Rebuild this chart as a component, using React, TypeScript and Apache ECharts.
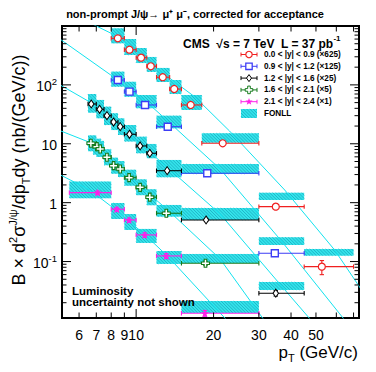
import React, { useEffect, useRef } from "react";
import * as echarts from "echarts";

const FONT = "'Liberation Sans', Arial, Helvetica, sans-serif";

// axis ranges
const X_MIN = 5.15;
const X_MAX = 73.5;
const Y_MIN = 0.011;
const Y_MAX = 1000;

// tick values / labels
const xTickVals = [6, 7, 8, 9, 10, 20, 30, 40, 50, 60, 70];
const xTickLabels = ["6", "7", "8", "9", "10", "20", "30", "40", "50", "", ""];
const xMajorTicks = [10];
const yMajorVals = [0.1, 1, 10, 100, 1000];
const yMajorLabels = ["{b|10}{s|-1}", "{b|1}", "{b|10}", "{b|10}{s|2}", ""];
const yMinorVals = [
  0.02, 0.03, 0.04, 0.05, 0.06, 0.07, 0.08, 0.09,
  0.2, 0.3, 0.4, 0.5, 0.6, 0.7, 0.8, 0.9,
  2, 3, 4, 5, 6, 7, 8, 9,
  20, 30, 40, 50, 60, 70, 80, 90,
  200, 300, 400, 500, 600, 700, 800, 900,
];

// 0.0 < |y| < 0.9 (x625)
const redPt = [8.49, 9.42, 10.45, 11.4, 12.69, 14.06, 16.3, 21.7, 34.9, 52.7];
const redLo = [8, 9, 10, 11, 12, 13.5, 15, 18, 30, 45];
const redHi = [9, 10, 11, 12, 13.5, 15, 18, 30, 45, 70];
const redVal = [618, 396, 290, 207, 135, 85.1, 45.6, 10.2, 0.855, 0.0819];
const redErr = [15, 10, 8, 6, 4, 3, 1.5, 0.4, 0.06, 0.022];
const redBandLo = [508, 322, 235, 166, 112, 70, 37.5, 10.4, 1.11, 0.126];
const redBandHi = [914, 601, 423, 298, 194, 121, 67.4, 15.1, 1.48, 0.164];
const redLineX = [6.0, 7.0, 8.4, 10.46, 12.69, 16.93, 23.06, 37.8, 59.1, 75.2];
const redLineY = [1420, 1000, 676, 322, 159, 62.3, 16.5, 1.64, 0.157, 0.033];

// 0.9 < |y| < 1.2 (x125)
const bluePt = [8.49, 9.42, 10.83, 13.27, 18.9, 34.6];
const blueLo = [8, 9, 10, 12, 15, 30];
const blueHi = [9, 10, 12, 15, 30, 45];
const blueVal = [121, 76.7, 45.6, 19.5, 3.16, 0.138];
const blueErr = [4, 3, 1.5, 0.8, 0.15, 0.012];
const blueBandLo = [93.2, 63.1, 40.1, 18.3, 3.07, 0.191];
const blueBandHi = [168, 113, 67.4, 30.0, 4.54, 0.259];
const blueLineX = [4.99, 8.4, 10.95, 13.4, 21.2, 36.7, 64.6];
const blueLineY = [625, 125, 51.9, 23.4, 3.73, 0.224, 0.0102];

// 1.2 < |y| < 1.6 (x25)
const blackPt = [6.69, 7.21, 7.7, 8.17, 8.67, 9.42, 10.36, 11.3, 13.2, 18.7, 34.9];
const blackLo = [6.5, 7, 7.5, 8, 8.5, 9, 10, 11, 12, 15, 30];
const blackHi = [7, 7.5, 8, 8.5, 9, 10, 11, 12, 15, 30, 45];
const blackVal = [47.4, 38.5, 30.0, 23.4, 19.5, 14.5, 9.18, 6.9, 3.49, 0.508, 0.029];
const blackErr = [1.5, 1.2, 1, 0.8, 0.7, 0.5, 0.35, 0.3, 0.15, 0.03, 0.003];
const blackBandLo = [33.7, 27.1, 20.8, 17.1, 14.1, 10.9, 6.9, 5.68, 2.7, 0.508, 0.033];
const blackBandHi = [70.0, 55.5, 42.7, 33.0, 27.1, 20.8, 13.2, 9.93, 5.31, 0.813, 0.045];
const blackLineX = [4.99, 6.74, 8.67, 10.49, 13.4, 21.2, 36.7, 51.6];
const blackLineY = [103.6, 48.7, 19.3, 9.55, 3.77, 0.643, 0.0386, 0.0069];

// 1.6 < |y| < 2.1 (x5)
const greenPt = [6.67, 7.04, 7.25, 7.7, 8.17, 8.67, 9.39, 10.36, 11.3, 13.1, 18.6];
const greenLo = [6.5, 6.8, 7.0, 7.5, 8, 8.5, 9, 10, 11, 12, 15];
const greenHi = [7.0, 7.3, 7.5, 8, 8.5, 9, 10, 11, 12, 15, 30];
const greenVal = [10.2, 8.93, 8.17, 5.9, 4.25, 3.73, 2.66, 1.82, 1.24, 0.661, 0.0935];
const greenErr = [0.5, 0.4, 0.35, 0.25, 0.2, 0.17, 0.12, 0.09, 0.06, 0.04, 0.008];
const greenBandLo = [7.46, 6.53, 5.97, 4.32, 3.1, 2.73, 1.94, 1.34, 0.904, 0.578, 0.0946];
const greenBandHi = [13.9, 12.2, 11.2, 8.07, 5.81, 5.1, 3.63, 2.49, 1.69, 0.914, 0.135];
const greenLineX = [4.99, 6.74, 9.5, 13.4, 21.2, 31.0, 34.6];
const greenLineY = [17.1, 10.2, 2.66, 0.723, 0.1107, 0.011, 0.0061];

// 2.1 < |y| < 2.4 (x1)
const magPt = [7.08, 8.41, 9.39, 10.8, 13.1, 18.5];
const magLo = [5.5, 8, 9, 10, 12, 15];
const magHi = [8, 9, 10, 12, 15, 30];
const magVal = [1.48, 0.773, 0.508, 0.283, 0.1245, 0.01325];
const magErr = [0.1, 0.06, 0.04, 0.025, 0.012, 0.0015];
const magBandLo = [1.19, 0.528, 0.344, 0.207, 0.091, 0.0134];
const magBandHi = [2.28, 0.988, 0.643, 0.358, 0.151, 0.0214];
const magLineX = [4.99, 6.61, 8.44, 10.95, 13.4, 21.2, 23.6];
const magLineY = [3.07, 1.64, 0.723, 0.272, 0.1175, 0.0134, 0.0081];

const legendLabels = [
  "0.0 < |y| < 0.9 (×625)",
  "0.9 < |y| < 1.2 (×125)",
  "1.2 < |y| < 1.6 (×25)",
  "1.6 < |y| < 2.1 (×5)",
  "2.1 < |y| < 2.4 (×1)",
  "FONLL",
];

const RED = "#f02020";
const BLUE = "#3d3df5";
const BLACK = "#000000";
const GREEN = "#157a1c";
const MAGENTA = "#ff20e8";
const CYAN_LINE = "#12e2ee";
const BAND_FILL = "#33e4ea";
const BAND_HATCH = "#1ca8c0";

const CROSS_PATH =
  "path://M-1.3,-4L1.3,-4L1.3,-1.3L4,-1.3L4,1.3L1.3,1.3L1.3,4L-1.3,4L-1.3,1.3L-4,1.3L-4,-1.3L-1.3,-1.3Z";
function starPoints(cx: number, cy: number, R: number, r: number) {
  const pts: number[][] = [];
  for (let i = 0; i < 10; i++) {
    const a = -Math.PI / 2 + (i * Math.PI) / 5;
    const rr = i % 2 === 0 ? R : r;
    pts.push([cx + rr * Math.cos(a), cy + rr * Math.sin(a)]);
  }
  return pts;
}
const STAR_PATH =
  "path://" +
  starPoints(0, 0, 10, 4.2)
    .map((p, i) => (i === 0 ? "M" : "L") + p[0].toFixed(2) + "," + p[1].toFixed(2))
    .join("") +
  "Z";

const groups = [
  { color: RED, pt: redPt, lo: redLo, hi: redHi, val: redVal, err: redErr, bLo: redBandLo, bHi: redBandHi, lx: redLineX, ly: redLineY, symbol: "circle", size: 7, fill: "#ffffff", bw: 1.2 },
  { color: BLUE, pt: bluePt, lo: blueLo, hi: blueHi, val: blueVal, err: blueErr, bLo: blueBandLo, bHi: blueBandHi, lx: blueLineX, ly: blueLineY, symbol: "rect", size: 7, fill: "#ffffff", bw: 1.4 },
  { color: BLACK, pt: blackPt, lo: blackLo, hi: blackHi, val: blackVal, err: blackErr, bLo: blackBandLo, bHi: blackBandHi, lx: blackLineX, ly: blackLineY, symbol: "diamond", size: [5.5, 8], fill: "#ffffff", bw: 1 },
  { color: GREEN, pt: greenPt, lo: greenLo, hi: greenHi, val: greenVal, err: greenErr, bLo: greenBandLo, bHi: greenBandHi, lx: greenLineX, ly: greenLineY, symbol: CROSS_PATH, size: 8, fill: "#ffffff", bw: 1.1 },
  { color: MAGENTA, pt: magPt, lo: magLo, hi: magHi, val: magVal, err: magErr, bLo: magBandLo, bHi: magBandHi, lx: magLineX, ly: magLineY, symbol: STAR_PATH, size: 8, fill: MAGENTA, bw: 0 },
];

function hatch(left: number, top: number, right: number, bottom: number) {
  const step = 3.2;
  const out: any[] = [];
  const c0 = Math.ceil((left - bottom) / step) * step;
  for (let c = c0; c <= right - top; c += step) {
    const xa = Math.max(left, top + c);
    const xb = Math.min(right, bottom + c);
    if (xb - xa > 0.3) {
      out.push({
        type: "line",
        shape: { x1: xa, y1: xa - c, x2: xb, y2: xb - c },
        style: { stroke: BAND_HATCH, lineWidth: 0.8 },
        silent: true,
      });
    }
  }
  return out;
}

function txt(x: number, y: number, text: string, o: any = {}) {
  const align = o.align || "left";
  const va = o.va || "middle";
  const el: any = {
    type: "text",
    x,
    y,
    silent: true,
    style: {
      text,
      fill: o.color || "#000",
      textFill: o.color || "#000",
      fontSize: o.size || 12,
      fontFamily: FONT,
      fontWeight: o.weight || "normal",
      align,
      textAlign: align,
      verticalAlign: va,
      textVerticalAlign: va,
      rich: o.rich,
    },
  };
  if (o.rotation) el.rotation = o.rotation;
  if (o.z !== undefined) el.z = o.z;
  return el;
}

function seg(x1: number, y1: number, x2: number, y2: number, stroke: string, lw: number) {
  return { type: "line", shape: { x1, y1, x2, y2 }, style: { stroke, lineWidth: lw }, silent: true };
}

function buildOption() {
  const series: any[] = [];

  // FONLL bands
  const boxData: number[][] = [];
  groups.forEach((g) => g.lo.forEach((l, i) => boxData.push([l, g.hi[i], g.bLo[i], g.bHi[i]])));
  series.push({
    type: "custom",
    name: "FONLL",
    coordinateSystem: "cartesian2d",
    data: boxData,
    encode: { x: [0, 1], y: [2, 3] },
    z: 2,
    silent: true,
    renderItem: (params: any, api: any) => {
      const a = api.coord([api.value(0), api.value(3)]);
      const b = api.coord([api.value(1), api.value(2)]);
      const left = a[0], top = a[1], right = b[0], bottom = b[1];
      return {
        type: "group",
        children: [
          { type: "rect", shape: { x: left, y: top, width: right - left, height: bottom - top }, style: { fill: BAND_FILL } },
          ...hatch(left, top, right, bottom),
        ],
      };
    },
  });

  // FONLL central lines
  groups.forEach((g) =>
    series.push({
      type: "line",
      data: g.lx.map((x, i) => [x, g.ly[i]]),
      showSymbol: false,
      symbol: "none",
      lineStyle: { color: CYAN_LINE, width: 1 },
      clip: true,
      silent: true,
      z: 3,
    })
  );

  // error bars
  groups.forEach((g) =>
    series.push({
      type: "custom",
      coordinateSystem: "cartesian2d",
      data: g.pt.map((x, i) => [x, g.lo[i], g.hi[i], g.val[i], g.val[i] - g.err[i], g.val[i] + g.err[i]]),
      encode: { x: [0, 1, 2], y: [3, 4, 5] },
      z: 4,
      silent: true,
      renderItem: (params: any, api: any) => {
        const c = api.coord([api.value(0), api.value(3)]);
        const l = api.coord([api.value(1), api.value(3)]);
        const r = api.coord([api.value(2), api.value(3)]);
        const lo = api.coord([api.value(0), api.value(4)]);
        const hi = api.coord([api.value(0), api.value(5)]);
        const cap = 2.2;
        const lw = 1.1;
        return {
          type: "group",
          children: [
            seg(l[0], c[1], r[0], c[1], g.color, lw),
            seg(l[0], c[1] - cap, l[0], c[1] + cap, g.color, lw),
            seg(r[0], c[1] - cap, r[0], c[1] + cap, g.color, lw),
            seg(c[0], lo[1], c[0], hi[1], g.color, lw),
            seg(c[0] - cap, lo[1], c[0] + cap, lo[1], g.color, lw),
            seg(c[0] - cap, hi[1], c[0] + cap, hi[1], g.color, lw),
          ],
        };
      },
    })
  );

  // markers
  groups.forEach((g) =>
    series.push({
      type: "scatter",
      data: g.pt.map((x, i) => [x, g.val[i]]),
      symbol: g.symbol,
      symbolSize: g.size,
      itemStyle: { color: g.fill, borderColor: g.color, borderWidth: g.bw, opacity: 1 },
      z: 5,
      silent: true,
    })
  );

  // x ticks + labels
  series.push({
    type: "custom",
    coordinateSystem: "cartesian2d",
    data: xTickVals.map((v) => [v, Y_MIN]),
    encode: { x: 0, y: 1 },
    clip: false,
    z: 6,
    silent: true,
    renderItem: (params: any, api: any) => {
      const v = api.value(0);
      const pb = api.coord([v, Y_MIN]);
      const pt = api.coord([v, Y_MAX]);
      const len = xMajorTicks.indexOf(v) >= 0 ? 9 : 5.5;
      const children: any[] = [
        seg(pb[0], pb[1], pb[0], pb[1] - len, "#000", 1),
        seg(pt[0], pt[1], pt[0], pt[1] + len, "#000", 1),
      ];
      const lab = xTickLabels[params.dataIndex];
      if (lab) children.push(txt(pb[0], pb[1] + 17, lab, { align: "center", size: 14 }));
      return { type: "group", children };
    },
  });

  // y major ticks + labels
  series.push({
    type: "custom",
    coordinateSystem: "cartesian2d",
    data: yMajorVals.map((v) => [X_MIN, v]),
    encode: { x: 0, y: 1 },
    clip: false,
    z: 6,
    silent: true,
    renderItem: (params: any, api: any) => {
      const v = api.value(1);
      const pl = api.coord([X_MIN, v]);
      const pr = api.coord([X_MAX, v]);
      const children: any[] = [
        seg(pl[0], pl[1], pl[0] + 9, pl[1], "#000", 1),
        seg(pr[0], pr[1], pr[0] - 9, pr[1], "#000", 1),
      ];
      const lab = yMajorLabels[params.dataIndex];
      if (lab)
        children.push(
          txt(pl[0] - 5, pl[1], lab, {
            align: "right",
            rich: {
              b: { fontSize: 14, fontFamily: FONT, fill: "#000", lineHeight: 16, verticalAlign: "bottom" },
              s: { fontSize: 9.5, fontFamily: FONT, fill: "#000", lineHeight: 10, verticalAlign: "top" },
            },
          })
        );
      return { type: "group", children };
    },
  });

  // y minor ticks
  series.push({
    type: "custom",
    coordinateSystem: "cartesian2d",
    data: yMinorVals.map((v) => [X_MIN, v]),
    encode: { x: 0, y: 1 },
    clip: false,
    z: 6,
    silent: true,
    renderItem: (params: any, api: any) => {
      const v = api.value(1);
      const pl = api.coord([X_MIN, v]);
      const pr = api.coord([X_MAX, v]);
      return {
        type: "group",
        children: [seg(pl[0], pl[1], pl[0] + 4.5, pl[1], "#000", 1), seg(pr[0], pr[1], pr[0] - 4.5, pr[1], "#000", 1)],
      };
    },
  });

  // legend + texts (graphic)
  const graphic: any[] = [];
  const LX0 = 241, LX1 = 257, LMX = 249, LTX = 264, LY0 = 54.5, LDY = 11.8;
  const markerG = (i: number, y: number) => {
    if (i === 0) return { type: "circle", shape: { cx: LMX, cy: y, r: 3.2 }, style: { fill: "#fff", stroke: RED, lineWidth: 1.2 } };
    if (i === 1) return { type: "rect", shape: { x: LMX - 3.2, y: y - 3.2, width: 6.4, height: 6.4 }, style: { fill: "#fff", stroke: BLUE, lineWidth: 1.3 } };
    if (i === 2)
      return { type: "polygon", shape: { points: [[LMX, y - 3.5], [LMX + 2.5, y], [LMX, y + 3.5], [LMX - 2.5, y]] }, style: { fill: "#fff", stroke: BLACK, lineWidth: 1 } };
    if (i === 3) {
      const a = 1.3, b = 3.8;
      return {
        type: "polygon",
        shape: { points: [[-a, -b], [a, -b], [a, -a], [b, -a], [b, a], [a, a], [a, b], [-a, b], [-a, a], [-b, a], [-b, -a], [-a, -a]].map((p) => [LMX + p[0], y + p[1]]) },
        style: { fill: "#fff", stroke: GREEN, lineWidth: 1 },
      };
    }
    return { type: "polygon", shape: { points: starPoints(LMX, y, 3.8, 1.6) }, style: { fill: MAGENTA } };
  };
  const legColors = [RED, BLUE, BLACK, GREEN, MAGENTA];
  for (let i = 0; i < 5; i++) {
    const y = LY0 + i * LDY;
    graphic.push(seg(LX0, y, LX1, y, legColors[i], 1));
    graphic.push(seg(LX0, y - 2, LX0, y + 2, legColors[i], 1));
    graphic.push(seg(LX1, y - 2, LX1, y + 2, legColors[i], 1));
    graphic.push(markerG(i, y));
  }
  const fy = LY0 + 5 * LDY;
  graphic.push({ type: "rect", shape: { x: LX0, y: fy - 4.5, width: LX1 - LX0, height: 9 }, style: { fill: BAND_FILL }, silent: true });
  hatch(LX0, fy - 4.5, LX1, fy + 4.5).forEach((h) => graphic.push(h));
  legendLabels.forEach((t, i) => graphic.push(txt(LTX, LY0 + i * LDY, t, { size: 8.2, weight: "bold" })));

  graphic.push(txt(195, 14, "non-prompt J/ψ→ μ⁺ μ⁻, corrected for acceptance", { align: "center", size: 11, weight: "bold" }));
  graphic.push(
    txt(183, 42, "{b|CMS  √s = 7 TeV  L = 37 pb}{s|-1}", {
      rich: {
        b: { fontSize: 12, fontWeight: "bold", fontFamily: FONT, fill: "#000", lineHeight: 15, verticalAlign: "bottom" },
        s: { fontSize: 8, fontWeight: "bold", fontFamily: FONT, fill: "#000", lineHeight: 9, verticalAlign: "top" },
      },
    })
  );
  graphic.push(txt(72, 290.5, "Luminosity", { size: 11.5, weight: "bold" }));
  graphic.push(txt(72, 301.5, "uncertainty not shown", { size: 11.5, weight: "bold" }));

  graphic.push(
    txt(19, 170, "{n|B × d}{p|2}{n|σ}{p|J/ψ}{n|/dp}{q|T}{n|dy (nb/(GeV/c))}", {
      align: "center",
      rotation: Math.PI / 2,
      rich: {
        n: { fontSize: 18, fontFamily: FONT, fill: "#000", lineHeight: 24, verticalAlign: "middle" },
        p: { fontSize: 11, fontFamily: FONT, fill: "#000", lineHeight: 11, verticalAlign: "top" },
        q: { fontSize: 11, fontFamily: FONT, fill: "#000", lineHeight: 11, verticalAlign: "bottom" },
      },
    })
  );
  graphic.push(
    txt(358, 352, "{n|p}{q|T}{n| (GeV/c)}", {
      align: "right",
      rich: {
        n: { fontSize: 17, fontFamily: FONT, fill: "#000", lineHeight: 22, verticalAlign: "middle" },
        q: { fontSize: 11, fontFamily: FONT, fill: "#000", lineHeight: 11, verticalAlign: "bottom" },
      },
    })
  );

  graphic.forEach((el) => {
    el.z = 100;
  });

  return {
    animation: false,
    backgroundColor: "#ffffff",
    grid: {
      left: 62,
      top: 26,
      width: 297,
      height: 292,
      show: true,
      borderColor: "#000",
      borderWidth: 2,
      backgroundColor: "transparent",
      containLabel: false,
      outerBoundsMode: "none",
    },
    xAxis: {
      type: "log",
      logBase: 10,
      min: X_MIN,
      max: X_MAX,
      axisLine: { show: false },
      axisTick: { show: false },
      axisLabel: { show: false },
      splitLine: { show: false },
    },
    yAxis: {
      type: "log",
      logBase: 10,
      min: Y_MIN,
      max: Y_MAX,
      axisLine: { show: false },
      axisTick: { show: false },
      axisLabel: { show: false },
      splitLine: { show: false },
    },
    series,
    graphic,
  };
}

export default function App() {
  const ref = useRef<HTMLDivElement>(null);
  useEffect(() => {
    if (!ref.current) return;
    const chart = echarts.init(ref.current, undefined, { renderer: "svg" });
    chart.setOption(buildOption() as any);
    return () => chart.dispose();
  }, []);
  return (
    <div
      ref={ref}
      style={{ position: "fixed", left: 0, top: 0, width: 376, height: 372, background: "#fff" }}
    />
  );
}
